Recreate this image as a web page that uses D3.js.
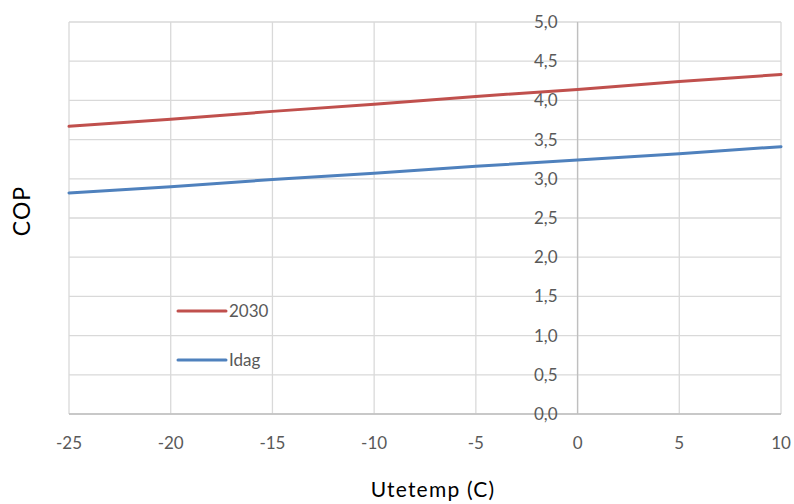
<!DOCTYPE html>
<html>
<head>
<meta charset="utf-8">
<script src="https://cdn.jsdelivr.net/npm/d3@7"></script>
<style>
  body { margin: 0; background: #fff; }
  svg { display: block; font-family: Lato, "Open Sans", sans-serif; }
</style>
</head>
<body>
<svg id="chart" width="794" height="504"></svg>
<script>
// Outdoor temperature (°C) and COP for today and 2030
const temps = [-25, -20, -15, -10, -5, 0, 5, 10];
const cop2030 = [3.67, 3.76, 3.86, 3.95, 4.05, 4.14, 4.24, 4.33];
const copIdag = [2.82, 2.90, 2.99, 3.07, 3.16, 3.24, 3.32, 3.41];
const seriesNames = ["2030", "Idag"];
const seriesColors = ["#c0504d", "#4f81bd"];
const xTicks = [-25, -20, -15, -10, -5, 0, 5, 10];
const yTicks = [0, 0.5, 1, 1.5, 2, 2.5, 3, 3.5, 4, 4.5, 5];

const svg = d3.select("#chart");
const plotL = 69, plotR = 781, plotT = 22, plotB = 414;

const x = d3.scaleLinear().domain([-25, 10]).range([plotL, plotR]);
const y = d3.scaleLinear().domain([0, 5]).range([plotB, plotT]);
const fmt = v => d3.format(".1f")(v).replace(".", ",");

// Gridlines
svg.append("g").selectAll("line").data(xTicks).join("line")
  .attr("x1", d => x(d)).attr("x2", d => x(d))
  .attr("y1", plotT).attr("y2", plotB)
  .attr("stroke", "#d9d9d9").attr("stroke-width", 1.3);
svg.append("g").selectAll("line").data(yTicks).join("line")
  .attr("x1", plotL).attr("x2", plotR)
  .attr("y1", d => y(d)).attr("y2", d => y(d))
  .attr("stroke", "#d9d9d9").attr("stroke-width", 1.3);

// Axis lines (y axis crosses at x = 0)
svg.append("line").attr("x1", x(0)).attr("x2", x(0))
  .attr("y1", plotT).attr("y2", plotB)
  .attr("stroke", "#bfbfbf").attr("stroke-width", 1.3);
svg.append("line").attr("x1", plotL).attr("x2", plotR)
  .attr("y1", plotB).attr("y2", plotB)
  .attr("stroke", "#bfbfbf").attr("stroke-width", 1.3);

// Y tick labels, left of the y axis
svg.append("g").selectAll("text").data(yTicks).join("text")
  .attr("x", x(0) - 20).attr("y", d => y(d) + 6)
  .attr("text-anchor", "end")
  .attr("font-size", 17).attr("fill", "#595959")
  .text(fmt);

// X tick labels
svg.append("g").selectAll("text").data(xTicks).join("text")
  .attr("x", d => x(d)).attr("y", 449)
  .attr("text-anchor", "middle")
  .attr("font-size", 17).attr("fill", "#595959")
  .text(d => d);

// Axis titles
svg.append("text").attr("x", 433).attr("y", 497)
  .attr("text-anchor", "middle").attr("font-size", 21)
  .attr("letter-spacing", 1.2).attr("fill", "#000")
  .text("Utetemp (C)");
svg.append("text").attr("transform", "translate(30,211) rotate(-90)")
  .attr("text-anchor", "middle").attr("font-size", 23)
  .attr("letter-spacing", 1).attr("fill", "#000")
  .text("COP");

// Series lines
const line = d3.line().x((d, i) => x(temps[i])).y(d => y(d));
[cop2030, copIdag].forEach((vals, i) => {
  svg.append("path").datum(vals)
    .attr("d", line).attr("fill", "none")
    .attr("stroke", seriesColors[i]).attr("stroke-width", 3)
    .attr("stroke-linecap", "round");
});

// Legend
const legendY = [311, 360];
seriesNames.forEach((name, i) => {
  svg.append("line").attr("x1", 178).attr("x2", 226)
    .attr("y1", legendY[i]).attr("y2", legendY[i])
    .attr("stroke", seriesColors[i]).attr("stroke-width", 3)
    .attr("stroke-linecap", "round");
  svg.append("text").attr("x", 229).attr("y", legendY[i] + 6)
    .attr("font-size", 17).attr("fill", "#595959").text(name);
});
</script>
</body>
</html>
